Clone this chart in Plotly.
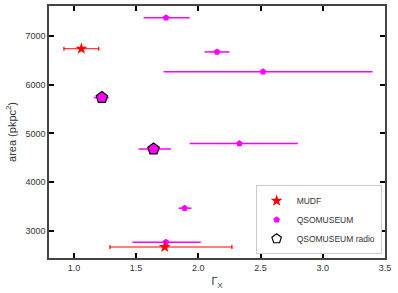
import plotly.graph_objects as go

# MUDF
mudf_x = [1.06, 1.73]
mudf_y = [6735, 2675]
mudf_xlo = [0.92, 1.29]
mudf_xhi = [1.20, 2.27]

# QSOMUSEUM
qso_x = [1.74, 2.15, 2.52, 2.33, 1.89, 1.74]
qso_y = [7370, 6670, 6265, 4795, 3470, 2775]
qso_xlo = [1.56, 2.05, 1.72, 1.93, 1.84, 1.47]
qso_xhi = [1.93, 2.25, 3.40, 2.80, 1.945, 2.02]

# QSOMUSEUM radio
rad_x = [1.225, 1.64]
rad_y = [5735, 4680]
rad_xlo = [1.16, 1.52]
rad_xhi = [1.28, 1.78]


def errs(x, lo, hi):
    return [h - v for v, h in zip(x, hi)], [v - l for v, l in zip(x, lo)]


fig = go.Figure()

plus, minus = errs(qso_x, qso_xlo, qso_xhi)
fig.add_trace(go.Scatter(
    x=qso_x, y=qso_y, mode="markers", name="QSOMUSEUM",
    marker=dict(symbol="pentagon", size=7, color="magenta"),
    error_x=dict(type="data", symmetric=False, array=plus, arrayminus=minus,
                 color="magenta", thickness=1.5, width=0),
    showlegend=False,
))

plus, minus = errs(rad_x, rad_xlo, rad_xhi)
fig.add_trace(go.Scatter(
    x=rad_x, y=rad_y, mode="markers", name="QSOMUSEUM radio",
    marker=dict(symbol="pentagon", size=12, color="magenta",
                line=dict(color="black", width=1.2)),
    error_x=dict(type="data", symmetric=False, array=plus, arrayminus=minus,
                 color="magenta", thickness=1.5, width=0),
    showlegend=False,
))

plus, minus = errs(mudf_x, mudf_xlo, mudf_xhi)
fig.add_trace(go.Scatter(
    x=mudf_x, y=mudf_y, mode="markers", name="MUDF",
    marker=dict(symbol="star", size=9, color="red"),
    error_x=dict(type="data", symmetric=False, array=plus, arrayminus=minus,
                 color="red", thickness=1.2, width=2),
))

# legend-only entries
fig.add_trace(go.Scatter(
    x=[None], y=[None], mode="markers", name="QSOMUSEUM",
    marker=dict(symbol="pentagon", size=7, color="magenta"),
))
fig.add_trace(go.Scatter(
    x=[None], y=[None], mode="markers", name="QSOMUSEUM radio",
    marker=dict(symbol="pentagon", size=10, color="white",
                line=dict(color="black", width=1.2)),
))

axis_common = dict(
    showline=True, linecolor="#444", linewidth=1.5, mirror="allticks",
    ticks="inside", ticklen=5, tickwidth=1.5, tickcolor="black",
    showgrid=False, zeroline=False, automargin=False,
    tickfont=dict(size=9, color="#333"),
)

fig.update_xaxes(
    range=[0.8, 3.5], tickvals=[1.0, 1.5, 2.0, 2.5, 3.0, 3.5],
    ticktext=["1.0", "1.5", "2.0", "2.5", "3.0", "3.5"],
    title=dict(text="Γ<sub>X</sub>", font=dict(size=11, color="#333"), standoff=6),
    **axis_common,
)
fig.update_yaxes(
    range=[2450, 7610], tickvals=[3000, 4000, 5000, 6000, 7000],
    title=dict(text="area (pkpc<sup>2</sup>)", font=dict(size=11, color="#333"), standoff=7),
    **axis_common,
)

fig.update_layout(
    width=398, height=293,
    font_family="Liberation Sans",
    plot_bgcolor="white", paper_bgcolor="white",
    margin=dict(l=49, r=13, t=6, b=35),
    legend=dict(
        x=0.99, xanchor="right", y=0.015, yanchor="bottom",
        bgcolor="white", bordercolor="#ccc", borderwidth=1,
        font=dict(size=8.5, color="#333"),
        tracegroupgap=0,
    ),
)

fig.write_html(
    "out.html",
    config={"displayModeBar": False},
    post_script="document.body.style.margin='0';",
)
